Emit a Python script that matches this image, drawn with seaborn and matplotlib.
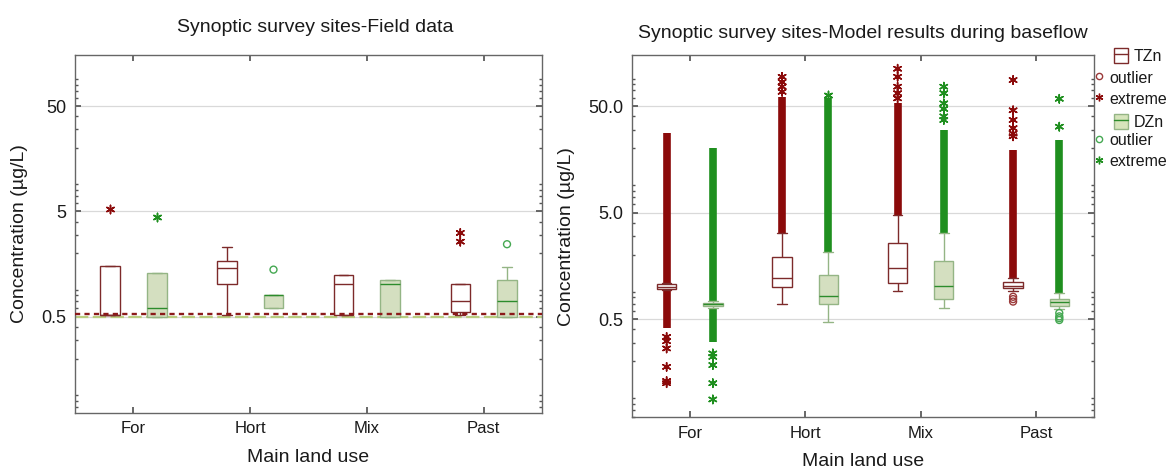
import numpy as np
import pandas as pd
import matplotlib
matplotlib.use("Agg")
import matplotlib.pyplot as plt
import seaborn as sns
from matplotlib.ticker import LogLocator, NullFormatter
from matplotlib.patches import Patch
from matplotlib.lines import Line2D
from matplotlib.legend_handler import HandlerTuple

# -----------------------------
# Data
# -----------------------------
land = ["For", "Hort", "Mix", "Past"]
metals = ["TZn", "DZn"]

# field data: five-number summaries (min, q1, median, q3, max)
field_tzn_min = [0.52, 0.52, 0.52, 0.52]
field_tzn_q1 = [0.52, 1.02, 0.52, 0.56]
field_tzn_med = [0.52, 1.44, 1.02, 0.705]
field_tzn_q3 = [1.52, 1.68, 1.25, 1.02]
field_tzn_max = [1.52, 2.28, 1.25, 1.02]

field_dzn_min = [0.50, 0.60, 0.50, 0.50]
field_dzn_q1 = [0.50, 0.60, 0.50, 0.50]
field_dzn_med = [0.605, 0.80, 1.02, 0.705]
field_dzn_q3 = [1.29, 0.80, 1.11, 1.11]
field_dzn_max = [1.29, 0.80, 1.11, 1.49]

# field data: single outliers / extremes
field_pt_land = ["For", "For", "Hort", "Past", "Past", "Past"]
field_pt_metal = ["TZn", "DZn", "DZn", "TZn", "TZn", "DZn"]
field_pt_value = [5.24, 4.42, 1.40, 3.12, 2.58, 2.44]
field_pt_kind = ["extreme", "extreme", "outlier", "extreme", "extreme", "outlier"]

# detection limits drawn on the field panel
dl_tzn = 0.53
dl_dzn = 0.50

# model results: five-number summaries
model_tzn_min = [0.93, 0.69, 0.92, 0.92]
model_tzn_q1 = [0.96, 1.01, 1.10, 0.97]
model_tzn_med = [1.01, 1.205, 1.50, 1.03]
model_tzn_q3 = [1.06, 1.90, 2.57, 1.11]
model_tzn_max = [1.10, 3.19, 4.74, 1.21]

model_dzn_min = [0.64, 0.47, 0.64, 0.62]
model_dzn_q1 = [0.67, 0.70, 0.765, 0.67]
model_dzn_med = [0.69, 0.817, 1.02, 0.72]
model_dzn_q3 = [0.706, 1.31, 1.76, 0.765]
model_dzn_max = [0.74, 2.14, 3.20, 0.87]

# model results: continuous runs of extremes (too many to read one by one)
model_tzn_up_lo = [1.10, 3.19, 4.74, 1.21]
model_tzn_up_hi = [27.7, 61.0, 53.0, 19.3]
model_dzn_up_lo = [0.74, 2.14, 3.20, 0.87]
model_dzn_up_hi = [20.0, 60.0, 30.0, 24.0]
model_tzn_down_lo = [0.41, np.nan, np.nan, np.nan]
model_tzn_down_hi = [0.93, np.nan, np.nan, np.nan]
model_dzn_down_lo = [0.306, np.nan, np.nan, np.nan]
model_dzn_down_hi = [0.64, np.nan, np.nan, np.nan]

# model results: separate extremes and outliers
model_ext_tzn = {
    "For": [0.34, 0.31, 0.265, 0.178, 0.131, 0.125],
    "Hort": [68, 76, 84, 94],
    "Mix": [59, 66, 76, 94, 112],
    "Past": [26, 27.6, 31, 37, 45.6, 87.7],
}
model_ext_dzn = {
    "For": [0.238, 0.221, 0.185, 0.125, 0.088],
    "Hort": [63],
    "Mix": [37, 40, 47, 53, 66, 76],
    "Past": [32, 58.5],
}
model_out_tzn = {"Past": [0.81, 0.77, 0.73]}
model_out_dzn = {"Past": [0.57, 0.53, 0.51, 0.49]}

# -----------------------------
# Colours
# -----------------------------
tzn_edge = "#7d2a2a"
tzn_pt = "#8b0a0a"
tzn_circ = "#9b3a3a"
dzn_fill = "#d6e4bb"
dzn_edge = "#94b585"
dzn_med = "#2c8c2c"
dzn_pt = "#1f8f1f"
dzn_circ = "#45a852"
dl_green = "#b9cd80"
text_col = "#1a1a1a"

# -----------------------------
# Build long tables
# -----------------------------
def summary_frame(metal, mins, q1s, meds, q3s, maxs):
    rows = []
    for i, lu in enumerate(land):
        for v in [mins[i], q1s[i], meds[i], q3s[i], maxs[i]]:
            rows.append({"land": lu, "metal": metal, "value": v})
    return pd.DataFrame(rows)


def points_frame(metal, values_by_land):
    rows = []
    for lu, vals in values_by_land.items():
        for v in vals:
            rows.append({"land": lu, "metal": metal, "value": v})
    return pd.DataFrame(rows, columns=["land", "metal", "value"])


field_tzn = summary_frame("TZn", field_tzn_min, field_tzn_q1, field_tzn_med, field_tzn_q3, field_tzn_max)
field_dzn = summary_frame("DZn", field_dzn_min, field_dzn_q1, field_dzn_med, field_dzn_q3, field_dzn_max)
model_tzn = summary_frame("TZn", model_tzn_min, model_tzn_q1, model_tzn_med, model_tzn_q3, model_tzn_max)
model_dzn = summary_frame("DZn", model_dzn_min, model_dzn_q1, model_dzn_med, model_dzn_q3, model_dzn_max)

field_pts = pd.DataFrame({
    "land": field_pt_land,
    "metal": field_pt_metal,
    "value": field_pt_value,
    "kind": field_pt_kind,
})

# -----------------------------
# Plot
# -----------------------------
sns.set_theme(style="ticks")
plt.rcParams["font.family"] = ["Liberation Sans", "DejaVu Sans"]
plt.rcParams["text.color"] = text_col
plt.rcParams["axes.labelcolor"] = text_col
plt.rcParams["xtick.labelcolor"] = text_col
plt.rcParams["ytick.labelcolor"] = text_col

fig = plt.figure(figsize=(11.74, 4.68), dpi=100)
ax1 = fig.add_axes([0.0639, 0.1175, 0.3978, 0.765])
ax2 = fig.add_axes([0.5383, 0.1083, 0.3935, 0.7741])

box_kws = dict(x="land", y="value", hue="metal", order=land, hue_order=metals,
               dodge=True, whis=np.inf, width=0.8, gap=0.58, linewidth=1.0,
               legend=False)
star = (6, 2, 0)


def draw_boxes(ax, tzn_df, dzn_df):
    pal = {"TZn": "white", "DZn": dzn_fill}
    sns.boxplot(data=tzn_df, ax=ax, palette=pal, linecolor=tzn_edge,
                log_scale=True, **box_kws)
    sns.boxplot(data=dzn_df, ax=ax, palette=pal, linecolor=dzn_edge,
                medianprops=dict(color=dzn_med), **box_kws)


def draw_points(ax, df, marker, colors, size, lw, hollow=False):
    if len(df) == 0:
        return
    n0 = len(ax.collections)
    sns.stripplot(data=df, x="land", y="value", hue="metal", order=land,
                  hue_order=metals, palette=colors, dodge=True, jitter=False,
                  marker=marker, size=size, linewidth=lw, legend=False, ax=ax,
                  zorder=4)
    if hollow:
        for coll in ax.collections[n0:]:
            fc = coll.get_facecolor()
            coll.set_edgecolor(fc)
            coll.set_facecolor("none")


# --- left: field data
ax1.axhline(dl_dzn, color=dl_green, lw=1.6, ls=(0, (6, 2)), zorder=1)
draw_boxes(ax1, field_tzn, field_dzn)
ax1.axhline(dl_tzn, color="#8b1a1a", lw=1.7, ls=(0, (2.2, 1.8)), zorder=5)
draw_points(ax1, field_pts[field_pts["kind"] == "extreme"], star,
            {"TZn": tzn_pt, "DZn": dzn_pt}, 6, 1.1)
draw_points(ax1, field_pts[field_pts["kind"] == "outlier"], "o",
            {"TZn": tzn_circ, "DZn": dzn_circ}, 5, 1.0, hollow=True)

# --- right: model results
pos = np.arange(len(land))
ax2.vlines(pos - 0.2, model_tzn_up_lo, model_tzn_up_hi, color=tzn_pt, lw=5.5, zorder=1)
ax2.vlines(pos + 0.2, model_dzn_up_lo, model_dzn_up_hi, color=dzn_pt, lw=5.5, zorder=1)
ax2.vlines(pos - 0.2, model_tzn_down_lo, model_tzn_down_hi, color=tzn_pt, lw=5.5, zorder=1)
ax2.vlines(pos + 0.2, model_dzn_down_lo, model_dzn_down_hi, color=dzn_pt, lw=5.5, zorder=1)
draw_boxes(ax2, model_tzn, model_dzn)
ext = pd.concat([points_frame("TZn", model_ext_tzn), points_frame("DZn", model_ext_dzn)])
out = pd.concat([points_frame("TZn", model_out_tzn), points_frame("DZn", model_out_dzn)])
draw_points(ax2, ext, star, {"TZn": tzn_pt, "DZn": dzn_pt}, 6, 1.1)
draw_points(ax2, out, "o", {"TZn": tzn_circ, "DZn": dzn_circ}, 5, 1.0, hollow=True)

# -----------------------------
# Axes styling
# -----------------------------
for ax, labels, ylim in [(ax1, ["0.5", "5", "50"], (0.061, 152.5)),
                         (ax2, ["0.5", "5.0", "50.0"], (0.0598, 150.6))]:
    ax.set_yscale("log")
    ax.set_ylim(*ylim)
    ax.set_xlim(-0.5, 3.5)
    ax.set_yticks([0.5, 5, 50])
    ax.set_yticklabels(labels)
    ax.yaxis.set_minor_locator(LogLocator(base=10, subs=range(2, 10)))
    ax.yaxis.set_minor_formatter(NullFormatter())
    ax.grid(axis="y", which="major", color="#d9d9d9", lw=0.9)
    ax.set_axisbelow(True)
    ax.tick_params(which="both", direction="in", top=True, right=True,
                   color="#555555", pad=6)
    ax.tick_params(axis="y", labelsize=13)
    ax.tick_params(axis="x", labelsize=12)
    ax.tick_params(which="major", length=4)
    ax.tick_params(which="minor", length=2.5)
    ax.tick_params(axis="x", which="minor", top=False, bottom=False)
    for sp in ax.spines.values():
        sp.set_color("#666666")
        sp.set_linewidth(1.0)
    ax.set_xlabel("Main land use", fontsize=14)
    ax.set_ylabel("Concentration (µg/L)", fontsize=14)

ax1.xaxis.set_label_coords(0.5, -0.1)
ax1.yaxis.set_label_coords(-0.1, 0.5)
ax2.xaxis.set_label_coords(0.5, -0.098)
ax2.yaxis.set_label_coords(-0.123, 0.5)

fig.text(315 / 1174, 1 - 28 / 468, "Synoptic survey sites-Field data",
         ha="center", va="center", fontsize=14)
fig.text(863 / 1174, 1 - 33 / 468, "Synoptic survey sites-Model results during baseflow",
         ha="center", va="center", fontsize=14)

# -----------------------------
# Legend (box rows and marker rows sit at different indents)
# -----------------------------
blank = Line2D([], [], ls="none")
box_handles = [
    (Patch(facecolor="white", edgecolor=tzn_edge), Line2D([], [], color=tzn_edge, lw=1)),
    blank, blank,
    (Patch(facecolor=dzn_fill, edgecolor=dzn_edge), Line2D([], [], color=dzn_med, lw=1)),
]
box_labels = ["TZn", "outlier", "extreme", "DZn"]
mark_handles = [
    Line2D([], [], marker="o", ls="none", mfc="none", mec=tzn_circ, ms=4.5),
    Line2D([], [], marker=star, ls="none", color=tzn_pt, mec=tzn_pt, ms=5.5, mew=1),
    blank,
    Line2D([], [], marker="o", ls="none", mfc="none", mec=dzn_circ, ms=4.5),
    Line2D([], [], marker=star, ls="none", color=dzn_pt, mec=dzn_pt, ms=5.5, mew=1),
]
mark_labels = ["outlier", "extreme", "DZn", "outlier", "extreme"]

leg_kws = dict(loc="upper left", frameon=False, fontsize=11.5, handleheight=1.05,
               borderaxespad=0, borderpad=0,
               handler_map={tuple: HandlerTuple(ndivide=1, pad=0)})
leg_a = fig.legend(box_handles, box_labels, bbox_to_anchor=(1114 / 1174, 1 - 48 / 468),
                   handlelength=0.9, handletextpad=0.35, labelspacing=0.38, **leg_kws)
leg_b = fig.legend(mark_handles, mark_labels, bbox_to_anchor=(1093 / 1174, 1 - 70 / 468),
                   handlelength=0.7, handletextpad=0.3, labelspacing=0.31, **leg_kws)
# the filler rows only keep the row spacing equal; hide their text
for leg, hidden in [(leg_a, [1, 2]), (leg_b, [2])]:
    for i in hidden:
        leg.get_texts()[i].set_alpha(0)

fig.savefig("out.png", dpi=100)
